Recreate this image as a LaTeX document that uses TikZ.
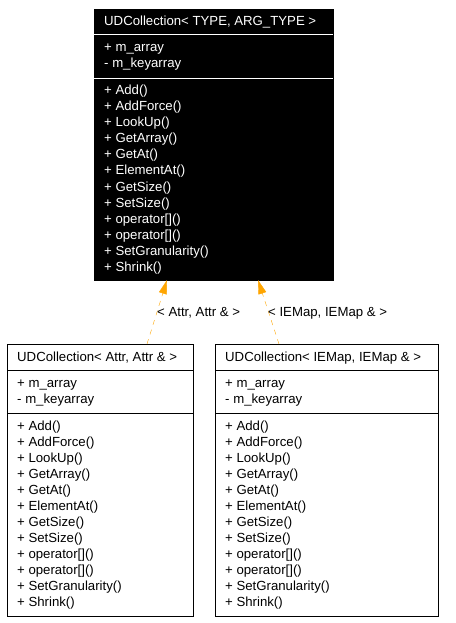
\documentclass[tikz,border=0pt]{standalone}
\usepackage{fontspec}
\setmainfont{Liberation Sans}
\usepackage{tikz}
\usetikzlibrary{arrows.meta}

\definecolor{inherit}{RGB}{255,165,0}

\tikzset{
  member/.style={anchor=base west,inner sep=0pt,font=\fontsize{13.2bp}{16bp}\selectfont},
  realize/.style={draw=inherit,dash pattern=on 5bp off 5bp,
    -{Triangle[length=14bp,width=8bp,fill=inherit]}},
}

\newcommand{\methodlist}{Add(),AddForce(),LookUp(),GetArray(),GetAt(),ElementAt(),GetSize(),SetSize(),{operator[]()},{operator[]()},SetGranularity(),Shrink()}

\begin{document}
\begin{tikzpicture}[x=1bp,y=-1bp]
  \useasboundingbox (0,0) rectangle (456,623);

  %template class
  \draw[fill=black] (94,9) rectangle (333,280);
  \draw[white] (94,34) -- (333,34);
  \draw[white] (94,78) -- (333,78);
  \node[member,white] (tname) at (104,26) {UDCollection< TYPE, ARG\_TYPE >};
  \node[member,white] (tattr1) at (104,52) {+ m\_array};
  \node[member,white] (tattr2) at (104,68) {- m\_keyarray};
  \foreach \m [count=\i] in \methodlist
    \node[member,white] (tm\i) at (104,79+16*\i) {+ \m};

  %instance Attr
  \draw[fill=white] (7,344) rectangle (193,616);
  \draw (7,370) -- (193,370);
  \draw (7,413) -- (193,413);
  \node[member] (aname) at (17,361) {UDCollection< Attr, Attr \& >};
  \node[member] (aattr1) at (17,387) {+ m\_array};
  \node[member] (aattr2) at (17,403) {- m\_keyarray};
  \foreach \m [count=\i] in \methodlist
    \node[member] (am\i) at (17,414+16*\i) {+ \m};

  %instance IEMap
  \draw[fill=white] (215,344) rectangle (438,616);
  \draw (215,370) -- (438,370);
  \draw (215,413) -- (438,413);
  \node[member] (iname) at (225,361) {UDCollection< IEMap, IEMap \& >};
  \node[member] (iattr1) at (225,387) {+ m\_array};
  \node[member] (iattr2) at (225,403) {- m\_keyarray};
  \foreach \m [count=\i] in \methodlist
    \node[member] (im\i) at (225,414+16*\i) {+ \m};

  % template arguments
  \coordinate (afrom) at (147,344);
  \coordinate (ato) at (167,280);
  \coordinate (ifrom) at (279,344);
  \coordinate (ito) at (258,280);
  \draw[realize] (afrom) -- (ato);
  \draw[realize] (ifrom) -- (ito);

  \node[member] (alabel) at (157,316) {< Attr, Attr \& >};
  \node[member] (ilabel) at (268,316) {< IEMap, IEMap \& >};
\end{tikzpicture}
\end{document}
